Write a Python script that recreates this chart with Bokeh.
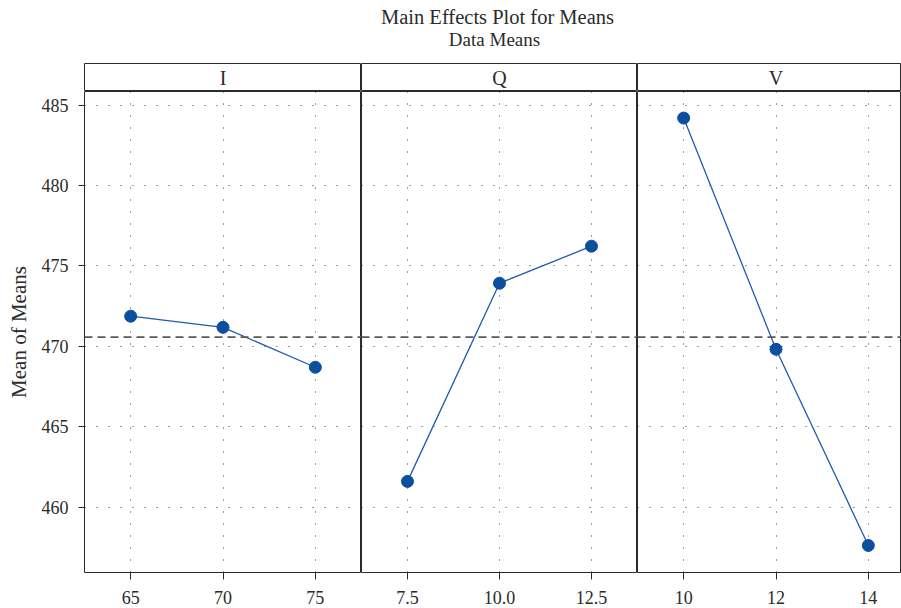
from bokeh.plotting import figure
from bokeh.models import Range1d, Label, Span, FixedTicker, NumeralTickFormatter
from bokeh.layouts import column, row
from bokeh.embed import file_html
from bokeh.resources import INLINE

# ---------------- data ----------------
title_text = "Main Effects Plot for Means"
subtitle_text = "Data Means"
y_label = "Mean of Means"
factors = ["I", "Q", "V"]
I_levels = [65, 70, 75]
I_means = [471.88, 471.19, 468.71]
Q_levels = [7.5, 10.0, 12.5]
Q_means = [461.62, 473.93, 476.23]
V_levels = [10, 12, 14]
V_means = [484.19, 469.83, 457.64]
y_ticks = [460, 465, 470, 475, 480, 485]
x_formats = ["0", "0.0", "0"]

levels_all = [I_levels, Q_levels, V_levels]
means_all = [I_means, Q_means, V_means]
grand_mean = sum(sum(m) for m in means_all) / sum(len(m) for m in means_all)

# ---------------- style ----------------
FONT = "Liberation Serif"
DARK = "#2b2b2b"
BLUE = "#0d4f9f"
LINE_BLUE = "#1f5cab"
Y_RANGE = (455.96, 485.84)
LEFT = 84
FULL_W = [277, 276, 277]
widths = [LEFT + 277, 276, 264]   # last panel cut by the window edge
TITLE_H = 63
STRIP_H = 28
PANEL_H = 517
BOTTOM = 36


def x_range_for(levels, frame_w, full_w):
    span = max(levels) - min(levels)
    x0 = min(levels) - 0.25 * span
    x1 = max(levels) + 0.25 * span
    x1 = x0 + (x1 - x0) * frame_w / full_w
    return x0, x1


panels = []
strips = []
for i, (name, lv, mv, fmt) in enumerate(zip(factors, levels_all, means_all, x_formats)):
    frame_w = widths[i] - (LEFT if i == 0 else 0)
    x0, x1 = x_range_for(lv, frame_w, FULL_W[i])
    xr = Range1d(x0, x1)
    p = figure(width=widths[i], height=PANEL_H, output_backend="svg", toolbar_location=None,
               x_range=xr, y_range=Range1d(*Y_RANGE),
               y_axis_location="left" if i == 0 else None,
               min_border=0, min_border_left=LEFT if i == 0 else 0, min_border_bottom=BOTTOM,
               outline_line_color=DARK, outline_line_width=1,
               background_fill_color="white", border_fill_color="white")
    p.xaxis.ticker = FixedTicker(ticks=lv)
    p.xaxis.formatter = NumeralTickFormatter(format=fmt)
    p.xaxis.axis_line_color = None
    p.xaxis.major_tick_line_color = DARK
    p.xaxis.major_tick_out = 7
    p.xaxis.major_tick_in = 0
    p.xaxis.minor_tick_line_color = None
    p.xaxis.major_label_standoff = 11
    p.xaxis.major_label_text_font = FONT
    p.xaxis.major_label_text_font_size = "18px"
    p.xaxis.major_label_text_color = DARK
    if i == 0:
        p.yaxis.ticker = FixedTicker(ticks=y_ticks)
        p.yaxis.axis_line_color = None
        p.yaxis.major_tick_line_color = DARK
        p.yaxis.major_tick_out = 6
        p.yaxis.major_tick_in = 0
        p.yaxis.minor_tick_line_color = None
        p.yaxis.major_label_standoff = 10
        p.yaxis.major_label_text_font = FONT
        p.yaxis.major_label_text_font_size = "18px"
        p.yaxis.major_label_text_color = DARK
        p.yaxis.axis_label = y_label
        p.yaxis.axis_label_text_font = FONT
        p.yaxis.axis_label_text_font_size = "21px"
        p.yaxis.axis_label_text_font_style = "normal"
        p.yaxis.axis_label_text_color = DARK
        p.yaxis.axis_label_standoff = 8
    p.xgrid.ticker = FixedTicker(ticks=lv)
    p.ygrid.ticker = FixedTicker(ticks=y_ticks)
    p.grid.grid_line_color = "#3a3a3a"
    p.grid.grid_line_dash = "1 11"
    p.grid.grid_line_width = 1

    p.add_layout(Span(location=grand_mean, dimension="width", line_color="#5a5a5a",
                      line_dash="8 5", line_width=1.6))
    p.line(lv, mv, line_color=LINE_BLUE, line_width=1.3)
    p.scatter(lv, mv, size=12, fill_color=BLUE, line_color=BLUE)
    panels.append(p)

    s = figure(width=widths[i], height=STRIP_H, output_backend="svg", toolbar_location=None,
               x_range=xr, y_range=Range1d(0, 1),
               x_axis_location=None, y_axis_location=None,
               min_border=0, min_border_left=LEFT if i == 0 else 0,
               outline_line_color=DARK, outline_line_width=1,
               background_fill_color="white", border_fill_color="white")
    s.grid.visible = False
    s.add_layout(Label(x=(min(lv) + max(lv)) / 2, y=0.5, text=name, text_align="center",
                       text_baseline="middle", text_font=FONT, text_font_size="20px",
                       text_color=DARK))
    strips.append(s)

t = figure(width=sum(widths), height=TITLE_H, output_backend="svg", toolbar_location=None,
           x_range=Range1d(0, 1), y_range=Range1d(0, 1),
           x_axis_location=None, y_axis_location=None, min_border=0,
           outline_line_color=None, background_fill_color="white", border_fill_color="white")
t.grid.visible = False
t.add_layout(Label(x=497, y=TITLE_H - 16, x_units="screen", y_units="screen", text=title_text,
                   text_align="center", text_baseline="middle", text_font=FONT,
                   text_font_size="20.5px", text_color=DARK))
t.add_layout(Label(x=494, y=TITLE_H - 39, x_units="screen", y_units="screen", text=subtitle_text,
                   text_align="center", text_baseline="middle", text_font=FONT,
                   text_font_size="19px", text_color=DARK))

layout = column(t, row(*strips, spacing=0), row(*panels, spacing=0), spacing=0)

open("out.html", "w").write(file_html(layout, INLINE))
